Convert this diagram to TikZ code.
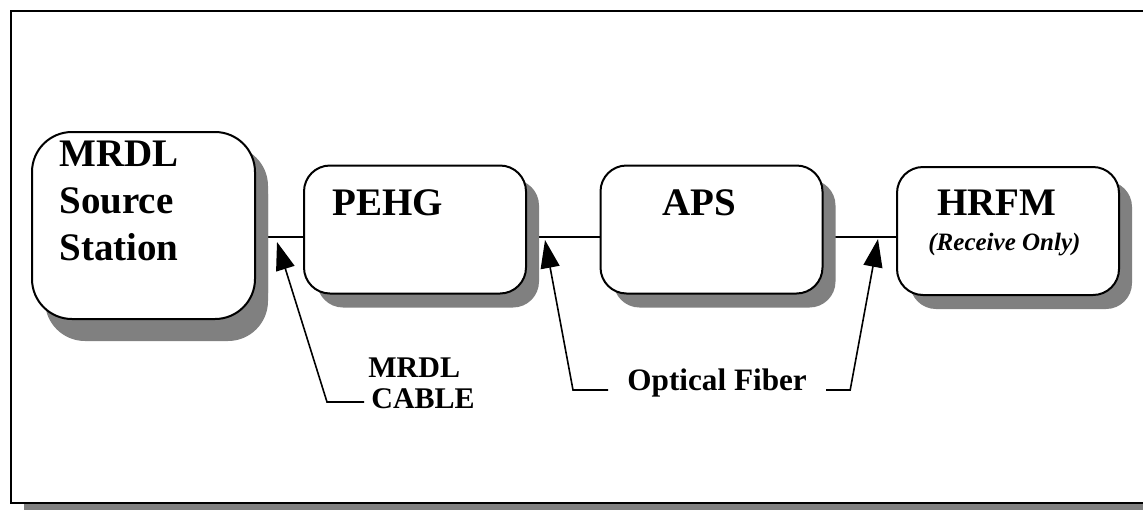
\documentclass[tikz,border=0pt]{standalone}
\usepackage{fontspec}
\setmainfont{Liberation Serif}
\usetikzlibrary{shadows,backgrounds,arrows.meta}
\begin{document}
\begin{tikzpicture}[x=0.5pt,y=-0.5pt,
  unit/.style={draw,line width=1pt,fill=white,rounded corners=13pt,
    minimum width=111pt,minimum height=64pt,
    drop shadow={shadow xshift=6.5pt,shadow yshift=-7pt,fill=black!50,opacity=1}},
  big/.style={inner sep=0pt,anchor=base west,font=\fontsize{19.5}{23.5}\selectfont\bfseries},
  small/.style={inner ysep=0pt,anchor=base west,font=\fontsize{15}{18}\selectfont\bfseries},
  pointer/.style={line width=0.8pt,-{Triangle[length=14pt,width=9.5pt]}}]
\useasboundingbox (0,0) rectangle (1143,509);
% units
\node[unit,rounded corners=20pt,minimum width=111.5pt,minimum height=93.5pt,
  drop shadow={shadow xshift=6.5pt,shadow yshift=-11pt,fill=black!50,opacity=1}] (source) at (143.5,225.5) {};
\node[unit] (pehgbox) at (415,229.5) {};
\node[unit] (apsbox) at (711.5,229.5) {};
\node[unit] (hrfmbox) at (1008,231) {};
\coordinate (bus) at (0,237);
\begin{scope}[on background layer]
\fill[black!50] (24,503) rectangle (1160,510);
\draw[line width=1.25pt,fill=white] (11,11) rectangle (1160,503);
\draw[line width=0.8pt] (source.east |- bus) -- (pehgbox.west |- bus);
\draw[line width=0.8pt] (pehgbox.east |- bus) -- (apsbox.west |- bus);
\draw[line width=0.8pt] (apsbox.east |- bus) -- (hrfmbox.west |- bus);
\end{scope}
% texts
\node[big] (src1) at (59,166) {MRDL};
\node[big] (src2) at (59,213) {Source};
\node[big] (src3) at (59,260) {Station};
\node[big] (pehg) at (332,215) {PEHG};
\node[big] (aps) at (662,215) {APS};
\node[big] (hrfm) at (937,215) {HRFM};
\node[big,font=\fontsize{12.5}{15}\selectfont\bfseries\itshape] (recv) at (928,250) {(Receive Only)};
% links
\node[small,inner xsep=0pt] (cable1) at (368,377) {MRDL};
\node[small,inner xsep=3.5pt] (cable2) at (364,408) {CABLE};
\node[small,inner xsep=9.5pt,font=\fontsize{15.6}{18}\selectfont\bfseries] (fiber) at (608,390) {Optical Fiber};
\coordinate (tipcable) at (277,242);
\coordinate (tipfiberL) at (545,240);
\coordinate (tipfiberR) at (878,239);
\draw[pointer] ([yshift=3pt]cable2.base west) -- ++(-37,0) -- (tipcable);
\draw[pointer] (fiber.base west) -- ++(-35,0) -- (tipfiberL);
\draw[pointer] (fiber.base east) -- ++(24,0) -- (tipfiberR);
\end{tikzpicture}
\end{document}
